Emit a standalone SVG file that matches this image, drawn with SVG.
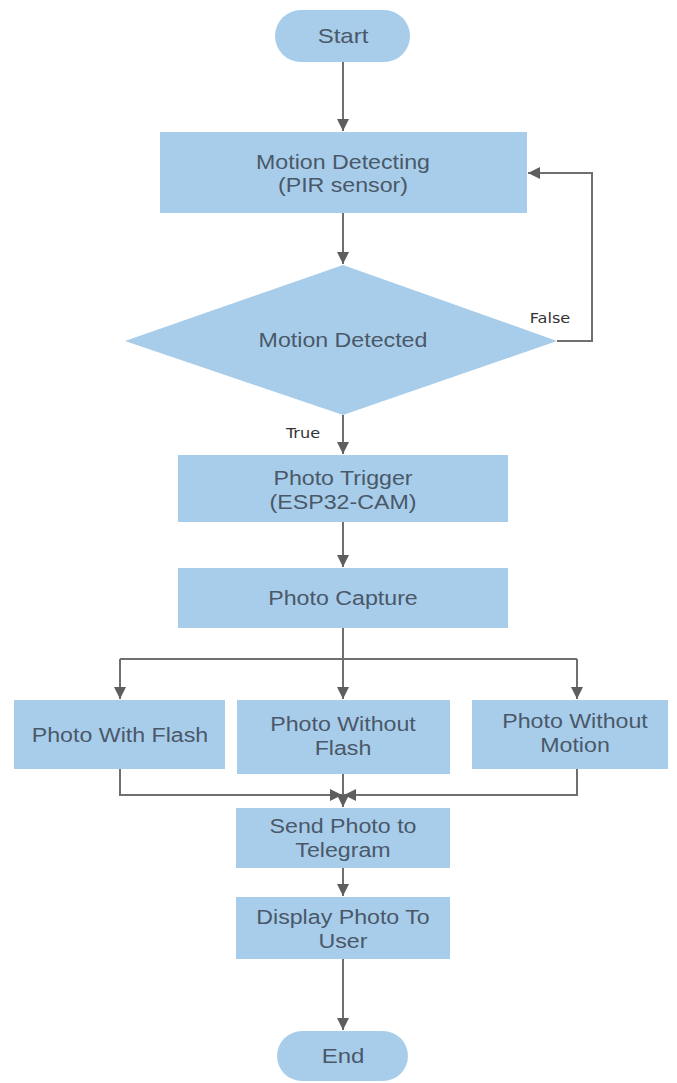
<svg xmlns="http://www.w3.org/2000/svg" width="677" height="1083" viewBox="0 0 677 1083">
<style>
.n{fill:#a8cdea;}
.t{font-family:"Liberation Sans",Arial,sans-serif;font-size:20px;fill:#4a5869;text-anchor:middle;}
.l{font-family:"DejaVu Sans",sans-serif;font-size:14px;fill:#333;text-anchor:middle;}
.c{stroke:#6f6f6f;stroke-width:2;fill:none;}
</style>
<defs>
<marker id="b" viewBox="0 0 12 12" refX="12" refY="6" markerWidth="12" markerHeight="12" markerUnits="userSpaceOnUse" orient="auto"><path d="M0,0 L12,6 L0,12 z" fill="#5e5e5e"/></marker>
</defs>
<rect width="677" height="1083" fill="#ffffff"/>
<g id="connectors">
<path class="c" d="M343,62 V131" marker-end="url(#b)"/>
<path class="c" d="M343,213 V264" marker-end="url(#b)"/>
<path class="c" d="M557,341 H592 V173 H528" marker-end="url(#b)"/>
<path class="c" d="M343,415 V454" marker-end="url(#b)"/>
<path class="c" d="M343,522 V567" marker-end="url(#b)"/>
<path class="c" d="M343,628 V699" marker-end="url(#b)"/>
<path class="c" d="M120,659 H577"/>
<path class="c" d="M120,659 V699" marker-end="url(#b)"/>
<path class="c" d="M577,659 V699" marker-end="url(#b)"/>
<path class="c" d="M120,769 V795 H342" marker-end="url(#b)"/>
<path class="c" d="M577,769 V795 H344" marker-end="url(#b)"/>
<path class="c" d="M343,774 V807" marker-end="url(#b)"/>
<path class="c" d="M343,868 V896" marker-end="url(#b)"/>
<path class="c" d="M343,959 V1030" marker-end="url(#b)"/>
<text class="l" transform="translate(550,323) scale(1.15,1)">False</text>
<text class="l" transform="translate(303,438) scale(1.15,1)">True</text>
</g>
<g id="start"><rect class="n" x="275" y="10" width="135" height="52" rx="26"/><text class="t" transform="translate(343,43) scale(1.2,1)">Start</text></g>
<g id="motion-detecting"><rect class="n" x="160" y="132" width="367" height="81"/><text class="t" transform="translate(343,169) scale(1.16,1)">Motion Detecting</text><text class="t" transform="translate(343,192) scale(1.16,1)">(PIR sensor)</text></g>
<g id="motion-detected"><polygon class="n" points="343,265 557,341 343,415 125,341"/><text class="t" transform="translate(343,347) scale(1.16,1)">Motion Detected</text></g>
<g id="photo-trigger"><rect class="n" x="178" y="455" width="330" height="67"/><text class="t" transform="translate(343,485) scale(1.16,1)">Photo Trigger</text><text class="t" transform="translate(343,509) scale(1.16,1)">(ESP32-CAM)</text></g>
<g id="photo-capture"><rect class="n" x="178" y="568" width="330" height="60"/><text class="t" transform="translate(343,605) scale(1.16,1)">Photo Capture</text></g>
<g id="with-flash"><rect class="n" x="14" y="700" width="211" height="69"/><text class="t" transform="translate(120,742) scale(1.16,1)">Photo With Flash</text></g>
<g id="without-flash"><rect class="n" x="237" y="700" width="213" height="74"/><text class="t" transform="translate(343,731) scale(1.16,1)">Photo Without</text><text class="t" transform="translate(343,755) scale(1.16,1)">Flash</text></g>
<g id="without-motion"><rect class="n" x="472" y="700" width="196" height="69"/><text class="t" transform="translate(575,728) scale(1.16,1)">Photo Without</text><text class="t" transform="translate(575,752) scale(1.16,1)">Motion</text></g>
<g id="send-telegram"><rect class="n" x="236" y="808" width="214" height="60"/><text class="t" transform="translate(343,833) scale(1.16,1)">Send Photo to</text><text class="t" transform="translate(343,857) scale(1.16,1)">Telegram</text></g>
<g id="display-photo"><rect class="n" x="236" y="897" width="214" height="62"/><text class="t" transform="translate(343,924) scale(1.16,1)">Display Photo To</text><text class="t" transform="translate(343,948) scale(1.16,1)">User</text></g>
<g id="end"><rect class="n" x="277" y="1031" width="131" height="50" rx="25"/><text class="t" transform="translate(343,1063) scale(1.2,1)">End</text></g>
</svg>
